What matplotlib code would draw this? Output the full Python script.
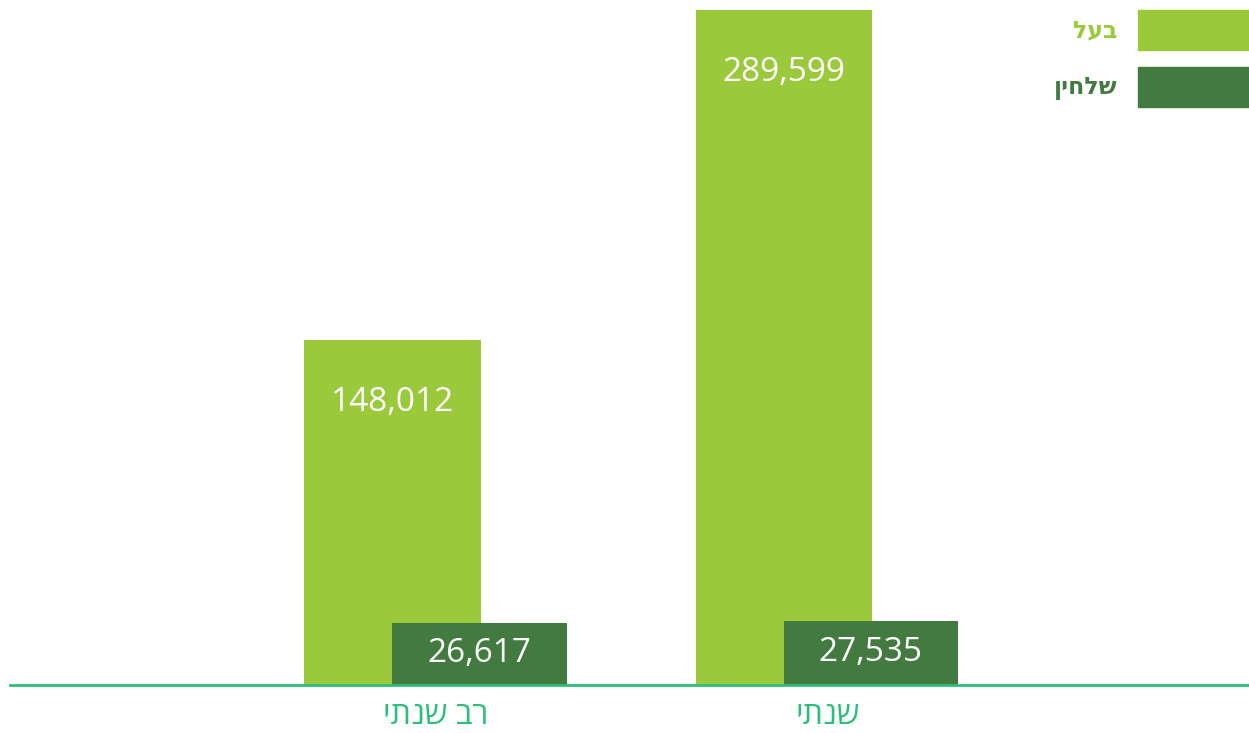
import matplotlib.pyplot as plt
from matplotlib.patches import Rectangle

# data
categories = ["רב שנתי", "שנתי"]
series_names = ["בעל", "שלחין"]
baal = [148012, 289599]
shlachin = [26617, 27535]

light = "#9aca3c"
dark = "#427a40"
axis_green = "#2dbe7a"
fonts = ["Open Sans", "DejaVu Sans"]


def heb(s):
    # matplotlib draws left to right, so flip the hebrew strings
    return s[::-1]


fig = plt.figure(figsize=(12.49, 7.33), dpi=100)
ax = fig.add_axes([10 / 1249, 48 / 733, 1 - 10 / 1249, 1 - 58 / 733])

x = range(len(categories))
w = 0.45
off = 0.111
b1 = ax.bar([i - off for i in x], baal, width=w, color=light, zorder=2)
b2 = ax.bar([i + off for i in x], shlachin, width=w * 0.99, color=dark, zorder=3)

for rect, v in zip(b1, baal):
    ax.text(rect.get_x() + rect.get_width() / 2, v - 27000, f"{v:,}",
            ha="center", va="center", color="white", fontsize=24,
            family=fonts, zorder=4)
for rect, v in zip(b2, shlachin):
    ax.text(rect.get_x() + rect.get_width() / 2, v / 2, f"{v:,}",
            ha="center", va="center", color="white", fontsize=24,
            family=fonts, zorder=4)

ax.set_xlim(-1.088, 2.077)
ax.set_ylim(0, max(baal))
ax.set_xticks(list(x))
ax.set_xticklabels([heb(c) for c in categories], fontsize=23, color=axis_green, family=fonts)
ax.tick_params(axis="x", length=0, pad=10)
ax.set_yticks([])
for s in ["top", "right", "left"]:
    ax.spines[s].set_visible(False)
ax.spines["bottom"].set_color(axis_green)
ax.spines["bottom"].set_linewidth(2)
ax.spines["bottom"].set_zorder(5)

# legend drawn by hand on the right
for k, (name, col) in enumerate(zip(series_names, [light, dark])):
    top = 10 + k * 57
    fig.patches.append(Rectangle((1138 / 1249, 1 - (top + 40) / 733), 111 / 1249, 40 / 733,
                                 transform=fig.transFigure, color=col))
    fig.text(1117 / 1249, 1 - (top + 21) / 733, heb(name), ha="right", va="center",
             color=col, fontsize=17, fontweight="bold", family=fonts)

fig.savefig("out.png", dpi=100)
